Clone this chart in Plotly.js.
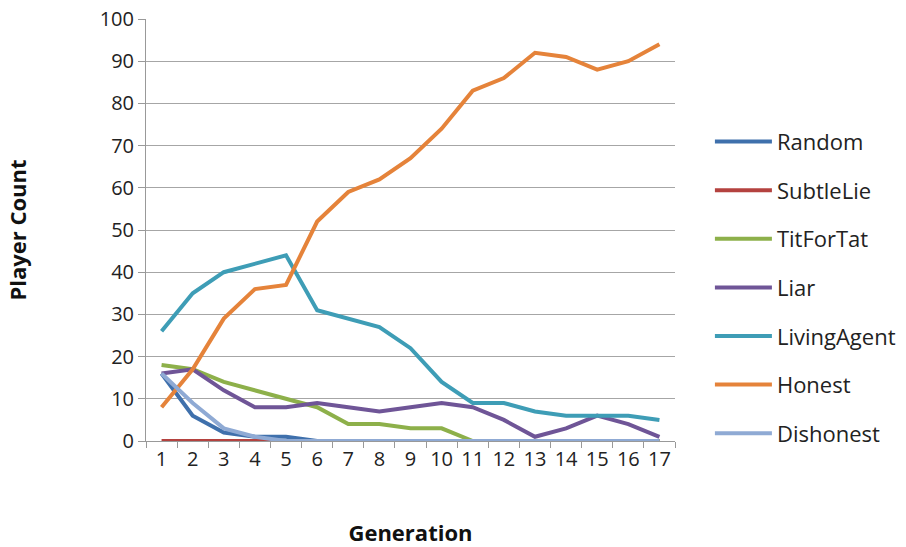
<!DOCTYPE html>
<html>
<head>
<meta charset="utf-8">
<script src="https://cdn.plot.ly/plotly-3.0.1.min.js"></script>
<style>html,body{margin:0;padding:0;background:#fff;}#chart{width:906px;height:547px;}</style>
</head>
<body>
<div id="chart"></div>
<script>
const generations = ['1','2','3','4','5','6','7','8','9','10','11','12','13','14','15','16','17'];
const seriesNames = ['Random','SubtleLie','TitForTat','Liar','LivingAgent','Honest','Dishonest'];
const random      = [16, 6, 2, 1, 1, 0, 0, 0, 0, 0, 0, 0, 0, 0, 0, 0, 0];
const subtleLie   = [0, 0, 0, 0, 0, 0, 0, 0, 0, 0, 0, 0, 0, 0, 0, 0, 0];
const titForTat   = [18, 17, 14, 12, 10, 8, 4, 4, 3, 3, 0, 0, 0, 0, 0, 0, 0];
const liar        = [16, 17, 12, 8, 8, 9, 8, 7, 8, 9, 8, 5, 1, 3, 6, 4, 1];
const livingAgent = [26, 35, 40, 42, 44, 31, 29, 27, 22, 14, 9, 9, 7, 6, 6, 6, 5];
const honest      = [8, 17, 29, 36, 37, 52, 59, 62, 67, 74, 83, 86, 92, 91, 88, 90, 94];
const dishonest   = [16, 9, 3, 1, 0, 0, 0, 0, 0, 0, 0, 0, 0, 0, 0, 0, 0];
const colors = ['#3F70AC','#B4423F','#8DB04A','#6F5597','#3E9DB6','#E5833A','#8FAAD4'];
const values = [random, subtleLie, titForTat, liar, livingAgent, honest, dishonest];

const font = '"Open Sans", Lato, sans-serif';
const traces = values.map((v, i) => ({
  x: generations, y: v, type: 'scatter', mode: 'lines', name: seriesNames[i],
  legendgroup: 'g' + i,
  line: {color: colors[i], width: 4}
}));

const layout = {
  width: 906, height: 547,
  paper_bgcolor: '#ffffff', plot_bgcolor: '#ffffff',
  margin: {l: 146, r: 231, t: 19, b: 106, autoexpand: false},
  font: {family: font, size: 20, color: '#222'},
  showlegend: true,
  legend: {
    x: 1.066, y: 0.363, xanchor: 'left', yanchor: 'middle',
    font: {family: font, size: 22, color: '#222'},
    tracegroupgap: 17, itemwidth: 57, traceorder: 'grouped',
    bgcolor: 'rgba(0,0,0,0)'
  },
  xaxis: {
    type: 'category', range: [-0.5, 16.5], tickson: 'boundaries', ticks: 'outside', ticklen: 6, tickcolor: '#999',
    tickangle: 0,
    showline: true, linecolor: '#999', linewidth: 1, showgrid: false, zeroline: false,
    tickfont: {family: font, size: 20, color: '#222'},
    title: {text: 'Generation', font: {family: font, size: 22, color: '#111', weight: 'bold'}, standoff: 56}
  },
  yaxis: {
    range: [0, 100], dtick: 10, ticks: 'outside', ticklen: 7, tickcolor: '#999',
    showline: true, linecolor: '#999', linewidth: 1,
    showgrid: true, gridcolor: '#A6A6A6', gridwidth: 1, zeroline: false,
    tickfont: {family: font, size: 20, color: '#222'},
    title: {text: 'Player Count', font: {family: font, size: 22, color: '#111', weight: 'bold'}, standoff: 66}
  }
};
Plotly.newPlot('chart', traces, layout, {displayModeBar: false, staticPlot: true});
</script>
</body>
</html>
